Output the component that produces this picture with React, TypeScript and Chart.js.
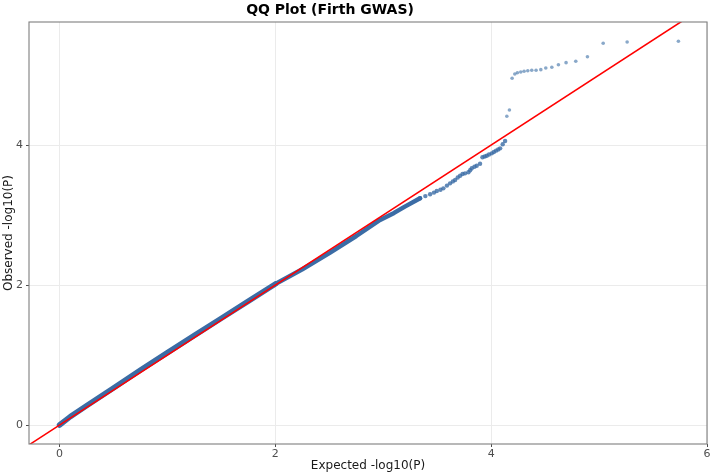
import React, { useEffect, useRef } from "react";
import { Chart, registerables } from "chart.js";

Chart.register(...registerables);

const TITLE = "QQ Plot (Firth GWAS)";
const X_LABEL = "Expected -log10(P)";
const Y_LABEL = "Observed -log10(P)";
const X_TICKS = [0, 2, 4, 6];
const Y_TICKS = [0, 2, 4];

// dense body of the QQ curve
const denseExpected = [0, 0.1, 0.25, 0.5, 0.75, 1.0, 1.25, 1.5, 1.75, 2.0, 2.25, 2.5, 2.75, 2.97, 3.1, 3.2, 3.341];
const denseObserved = [0, 0.12, 0.275, 0.53, 0.785, 1.035, 1.28, 1.525, 1.77, 2.015, 2.225, 2.455, 2.7, 2.93, 3.03, 3.12, 3.239];

// stepped tail of the curve
const tailExpected = [3.341, 3.39, 3.434, 3.47, 3.496, 3.53, 3.557, 3.59, 3.619, 3.645, 3.666, 3.69, 3.712, 3.735, 3.758, 3.789, 3.805, 3.82, 3.845, 3.866, 3.897, 3.919, 3.94, 3.959, 3.98, 4.005, 4.025, 4.045, 4.065, 4.083, 4.107, 4.129];
const tailObserved = [3.239, 3.27, 3.296, 3.32, 3.343, 3.36, 3.381, 3.42, 3.452, 3.48, 3.5, 3.535, 3.561, 3.585, 3.595, 3.61, 3.64, 3.667, 3.69, 3.704, 3.733, 3.824, 3.835, 3.847, 3.865, 3.881, 3.9, 3.919, 3.935, 3.952, 4.01, 4.057];

// top hits
const topExpected = [4.145, 4.169, 4.194, 4.219, 4.243, 4.274, 4.305, 4.339, 4.376, 4.416, 4.46, 4.506, 4.562, 4.623, 4.694, 4.784, 4.892, 5.038, 5.26, 5.735];
const topObserved = [4.41, 4.5, 4.953, 5.014, 5.033, 5.043, 5.053, 5.061, 5.067, 5.067, 5.076, 5.1, 5.11, 5.147, 5.176, 5.196, 5.261, 5.453, 5.471, 5.481];

// reference line y = x
const refLine = [-0.5, 6.5];

const FONT = "'DejaVu Sans', 'Liberation Sans', sans-serif";

const zip = (xs: number[], ys: number[]) => xs.map((x, i) => ({ x, y: ys[i] }));

const frameAndTitle = {
  id: "frameAndTitle",
  afterDatasetsDraw(chart: any) {
    const { ctx, chartArea } = chart;
    ctx.save();
    ctx.strokeStyle = "#7f7f7f";
    ctx.lineWidth = 1.1;
    ctx.strokeRect(chartArea.left, chartArea.top, chartArea.right - chartArea.left, chartArea.bottom - chartArea.top);
    ctx.restore();
  },
  afterDraw(chart: any) {
    const { ctx } = chart;
    ctx.save();
    ctx.font = `bold 14px ${FONT}`;
    ctx.fillStyle = "#000000";
    ctx.textAlign = "center";
    ctx.textBaseline = "middle";
    ctx.fillText(TITLE, 330, 10);
    ctx.restore();
  },
};

export default function App() {
  const ref = useRef<HTMLCanvasElement | null>(null);
  useEffect(() => {
    document.body.style.margin = "0";
    if (!ref.current) return;
    const chart = new Chart(ref.current, {
      type: "scatter",
      data: {
        datasets: [
          {
            label: "y = x",
            data: zip(refLine, refLine),
            showLine: true,
            borderColor: "#ff0000",
            borderWidth: 1.6,
            pointRadius: 0,
          },
          {
            label: "top",
            data: zip(topExpected, topObserved),
            backgroundColor: "rgba(58,110,165,0.6)",
            borderWidth: 0,
            pointRadius: 1.8,
          },
          {
            label: "tail",
            data: zip(tailExpected, tailObserved),
            backgroundColor: "rgba(58,108,165,0.8)",
            borderWidth: 0,
            pointRadius: 2.2,
          },
          {
            label: "dense",
            data: zip(denseExpected, denseObserved),
            showLine: true,
            borderColor: "#3b6ca5",
            borderWidth: 5,
            segment: {
              borderWidth: (c: any) => (c.p0.parsed.x < 1.9 ? 5.5 : 4.5),
            },
            borderCapStyle: "round",
            borderJoinStyle: "round",
            pointRadius: 0,
          },
        ],
      } as any,
      options: {
        animation: false,
        responsive: false,
        maintainAspectRatio: false,
        layout: { padding: { top: 22, right: 7, left: 0, bottom: 0 } },
        plugins: { legend: { display: false }, tooltip: { enabled: false }, title: { display: false } },
        scales: {
          x: {
            type: "linear",
            min: -0.283,
            max: 6.0,
            afterBuildTicks: (s: any) => {
              s.ticks = X_TICKS.map((v) => ({ value: v }));
            },
            afterFit: (s: any) => {
              s.height = 32;
            },
            grid: { color: "#ebebeb", lineWidth: 1, tickLength: 3, tickColor: "#4d4d4d", drawTicks: true },
            border: { display: false },
            ticks: { color: "#4d4d4d", font: { family: FONT, size: 11 }, padding: 1, maxRotation: 0 },
            title: {
              display: true,
              text: X_LABEL,
              color: "#1a1a1a",
              font: { family: FONT, size: 12 },
              padding: { top: 0, bottom: 3 },
            },
          },
          y: {
            type: "linear",
            min: -0.271,
            max: 5.757,
            afterBuildTicks: (s: any) => {
              s.ticks = Y_TICKS.map((v) => ({ value: v }));
            },
            afterFit: (s: any) => {
              s.width = 29;
            },
            grid: { color: "#ebebeb", lineWidth: 1, tickLength: 3, tickColor: "#4d4d4d", drawTicks: true },
            border: { display: false },
            ticks: { color: "#4d4d4d", font: { family: FONT, size: 11 }, padding: 3 },
            title: {
              display: true,
              text: Y_LABEL,
              color: "#1a1a1a",
              font: { family: FONT, size: 12 },
              padding: { top: 2, bottom: 0 },
            },
          },
        },
      } as any,
      plugins: [frameAndTitle],
    });
    return () => chart.destroy();
  }, []);
  return (
    <div style={{ width: 714, height: 476, background: "#ffffff" }}>
      <canvas ref={ref} width={714} height={476} style={{ display: "block" }} />
    </div>
  );
}
